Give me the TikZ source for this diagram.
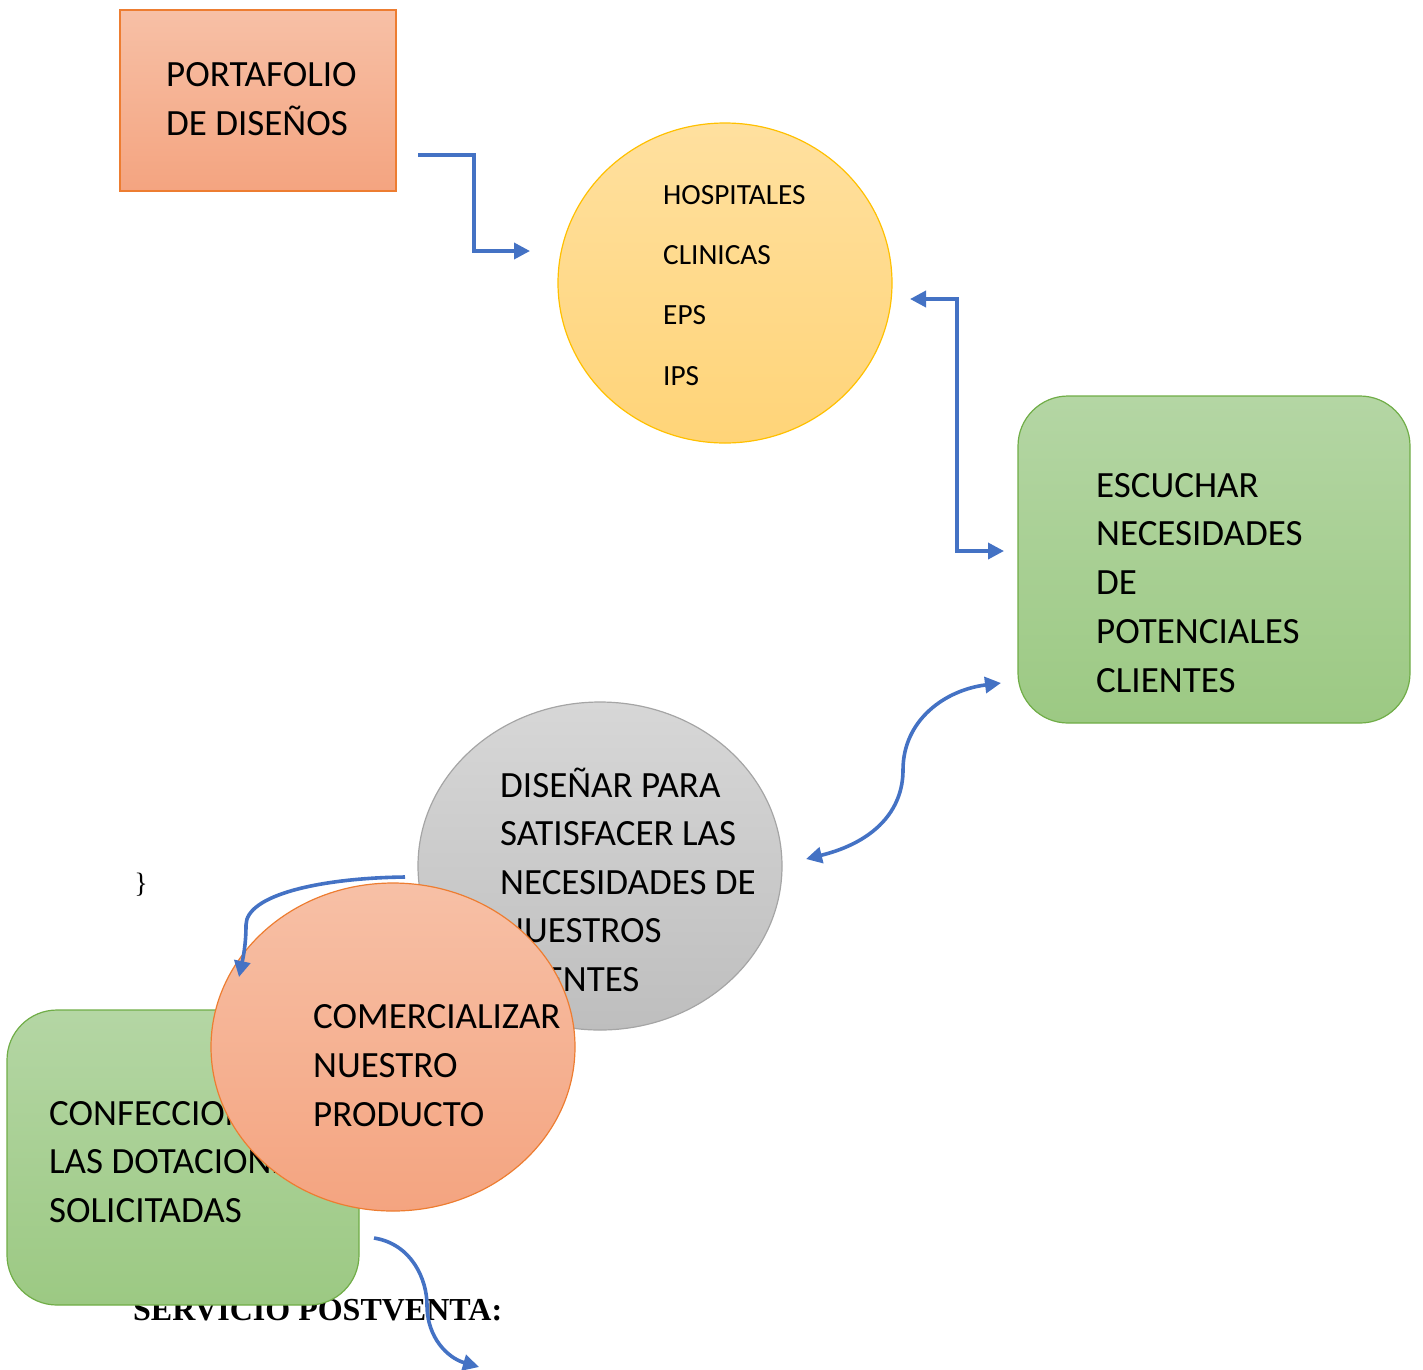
\documentclass[tikz,border=0pt]{standalone}
\usepackage{fontspec}
\setmainfont{Carlito}
\newfontfamily\tnr{Liberation Serif}
\usetikzlibrary{shapes.geometric,arrows.meta}
\definecolor{flow}{HTML}{4472C4}
\definecolor{orB}{HTML}{ED7D31}\definecolor{orT}{HTML}{F7C0A6}\definecolor{orD}{HTML}{F4A480}
\definecolor{yeB}{HTML}{FFC000}\definecolor{yeT}{HTML}{FFE09F}\definecolor{yeD}{HTML}{FFD478}
\definecolor{grB}{HTML}{70AD47}\definecolor{grT}{HTML}{B4D6A4}\definecolor{grD}{HTML}{9CC983}
\definecolor{gyB}{HTML}{A5A5A5}\definecolor{gyT}{HTML}{D7D7D7}\definecolor{gyD}{HTML}{BEBEBE}
\newcommand\mlines[1]{\begin{tabular}[t]{@{}l@{}}#1\end{tabular}}
\tikzset{
  orangefill/.style={draw=orB, top color=orT, bottom color=orD, line width=1.2pt},
  yellowfill/.style={draw=yeB, top color=yeT, bottom color=yeD, line width=1.2pt},
  greenfill/.style={draw=grB, top color=grT, bottom color=grD, line width=1.2pt, rounded corners=50pt},
  grayfill/.style={draw=gyB, top color=gyT, bottom color=gyD, line width=1.2pt},
  oval/.style={ellipse, inner sep=0pt},
  bigtxt/.style={anchor=base west, inner sep=0pt, font=\fontsize{37}{49}\selectfont},
  flowline/.style={draw=flow, line width=3.6pt},
  tip/.style={-{Triangle[length=16pt,width=16pt]}},
  tips/.style={{Triangle[length=16pt,width=16pt]}-{Triangle[length=16pt,width=16pt]}}
}
\begin{document}
\begin{tikzpicture}[x=1pt,y=-1pt]
\useasboundingbox (0,0) rectangle (1423,1369);
% portafolio
\node[orangefill, rectangle, minimum width=276pt, minimum height=181pt] (port) at (258,100.5) {};
\node[bigtxt] (porttxt) at (166,86) {\mlines{PORTAFOLIO\\DE DISEÑOS}};
% yellow circle
\node[yellowfill, oval, minimum width=334pt, minimum height=320pt] (clients) at (725,283) {};
\node[anchor=base west, inner sep=0pt, font=\fontsize{29.3}{60.4}\selectfont] (cltxt) at (663,204) {\mlines{HOSPITALES\\CLINICAS\\EPS\\IPS}};
\coordinate (a1s) at (418,155);
\coordinate (a1e) at (530,251);
\draw[flowline, tip] (a1s) -- (474,155) -- (474,251) -- (a1e);
% escuchar
\node[greenfill, rectangle, minimum width=392pt, minimum height=327pt] (esc) at (1214,559.5) {};
\node[bigtxt, font=\fontsize{37}{48.75}\selectfont] (esctxt) at (1096,497) {\mlines{ESCUCHAR\\NECESIDADES\\DE\\POTENCIALES\\CLIENTES}};
\coordinate (a2s) at (910,299);
\coordinate (a2e) at (1004,551);
\draw[flowline, tips] (a2s) -- (957,299) -- (957,551) -- (a2e);
% S curve
\coordinate (a3s) at (806,859);
\coordinate (a3e) at (1001,683);
\draw[flowline, tips] (a3s) .. controls (875,842) and (903,810) .. (903,770) .. controls (903,720) and (945,690) .. (a3e);
% gray circle
\node[grayfill, oval, minimum width=364pt, minimum height=328pt] (dis) at (600,866) {};
\node[bigtxt, font=\fontsize{37}{48.5}\selectfont] (distxt) at (500,797) {\mlines{DISEÑAR PARA\\SATISFACER LAS\\NECESIDADES DE\\NUESTROS\\CLIENTES}};
% stray texts
\node[anchor=base, inner sep=0pt, font=\tnr\fontsize{28}{30}\selectfont] (brace) at (141,892) {\}};
\node[anchor=base west, inner sep=0pt, font=\tnr\bfseries\fontsize{32}{36}\selectfont] (serv) at (133,1320) {SERVICIO POSTVENTA:};
% confeccion
\node[greenfill, rectangle, minimum width=352pt, minimum height=295pt] (conf) at (183,1157.5) {};
\node[bigtxt, font=\fontsize{37}{48.5}\selectfont] (conftxt) at (49,1125) {\mlines{CONFECCIONAR\\LAS DOTACIONES\\SOLICITADAS}};
% orange circle
\node[orangefill, oval, minimum width=364pt, minimum height=328pt] (com) at (393,1047) {};
\node[bigtxt] (comtxt) at (313,1028) {\mlines{COMERCIALIZAR\\NUESTRO\\PRODUCTO}};
% arrows on top
\coordinate (a4s) at (405,877);
\coordinate (a4e) at (239,977);
\draw[flowline, tip] (a4s) .. controls (320,878) and (246,895) .. (246,925) .. controls (246,945) and (243,958) .. (a4e);
\coordinate (a5s) at (374,1238);
\coordinate (a5e) at (479,1367);
\draw[flowline, tip] (a5s) .. controls (412,1244) and (427,1280) .. (427,1305) .. controls (427,1338) and (448,1358) .. (a5e);
\end{tikzpicture}
\end{document}
